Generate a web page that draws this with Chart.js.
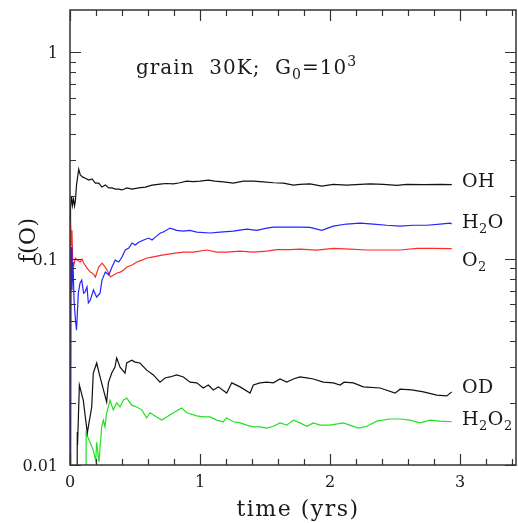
<!DOCTYPE html>
<html>
<head>
<meta charset="utf-8">
<script src="https://cdn.jsdelivr.net/npm/chart.js@4.4.1/dist/chart.umd.min.js"></script>
<style>
  html, body { margin: 0; padding: 0; background: #fff; }
  canvas { display: block; }
</style>
</head>
<body>
<canvas id="fracChart" width="518" height="523"></canvas>
<script>
// time (yrs) and f(O) for each species
const tOH = [0, 0.004, 0.012, 0.019, 0.027, 0.035, 0.042, 0.05, 0.067, 0.079, 0.098, 0.118, 0.144, 0.169, 0.195, 0.221, 0.246, 0.272, 0.298, 0.323, 0.348, 0.375, 0.4, 0.438, 0.477, 0.528, 0.579, 0.631, 0.708, 0.744, 0.795, 0.846, 0.898, 0.948, 1.0, 1.064, 1.115, 1.179, 1.256, 1.333, 1.41, 1.487, 1.564, 1.641, 1.718, 1.769, 1.846, 1.936, 2.025, 2.128, 2.231, 2.308, 2.41, 2.513, 2.59, 2.718, 2.846, 2.936];
const fOH = [0.001, 0.176, 0.201, 0.181, 0.194, 0.180, 0.192, 0.227, 0.271, 0.254, 0.248, 0.245, 0.240, 0.243, 0.232, 0.232, 0.222, 0.227, 0.220, 0.220, 0.217, 0.217, 0.215, 0.220, 0.217, 0.220, 0.222, 0.227, 0.230, 0.231, 0.230, 0.233, 0.237, 0.236, 0.237, 0.240, 0.237, 0.235, 0.232, 0.237, 0.237, 0.235, 0.233, 0.232, 0.227, 0.229, 0.230, 0.2245, 0.229, 0.227, 0.229, 0.230, 0.229, 0.226, 0.229, 0.228, 0.229, 0.228];

const tH2O = [0, 0.008, 0.015, 0.023, 0.031, 0.042, 0.05, 0.064, 0.077, 0.09, 0.105, 0.115, 0.131, 0.141, 0.156, 0.181, 0.205, 0.231, 0.246, 0.272, 0.298, 0.323, 0.348, 0.375, 0.4, 0.425, 0.452, 0.477, 0.502, 0.528, 0.567, 0.605, 0.631, 0.656, 0.695, 0.718, 0.769, 0.821, 0.872, 0.923, 0.975, 1.077, 1.154, 1.256, 1.359, 1.436, 1.513, 1.564, 1.641, 1.718, 1.769, 1.846, 1.936, 2.025, 2.128, 2.231, 2.333, 2.436, 2.538, 2.641, 2.744, 2.846, 2.923, 2.936];
const fH2O = [0.001, 0.1137, 0.0704, 0.0962, 0.063, 0.0504, 0.045, 0.068, 0.076, 0.0787, 0.068, 0.0688, 0.0728, 0.0609, 0.063, 0.0704, 0.065, 0.068, 0.0787, 0.086, 0.0832, 0.091, 0.0983, 0.0962, 0.1017, 0.110, 0.1124, 0.1189, 0.1163, 0.120, 0.123, 0.1257, 0.123, 0.127, 0.133, 0.1344, 0.1405, 0.137, 0.1358, 0.137, 0.1344, 0.133, 0.1344, 0.1358, 0.139, 0.137, 0.1405, 0.142, 0.142, 0.142, 0.142, 0.1415, 0.137, 0.1437, 0.147, 0.1485, 0.147, 0.145, 0.1437, 0.145, 0.145, 0.147, 0.1485, 0.147];

const tO2 = [0, 0.004, 0.01, 0.015, 0.021, 0.028, 0.041, 0.054, 0.079, 0.092, 0.105, 0.131, 0.156, 0.181, 0.195, 0.221, 0.246, 0.259, 0.285, 0.31, 0.336, 0.362, 0.387, 0.413, 0.438, 0.477, 0.515, 0.554, 0.592, 0.631, 0.669, 0.708, 0.759, 0.81, 0.872, 0.948, 1.052, 1.128, 1.205, 1.308, 1.41, 1.513, 1.59, 1.692, 1.769, 1.898, 2.025, 2.154, 2.282, 2.41, 2.538, 2.667, 2.795, 2.936];
const fO2 = [0.001, 0.150, 0.1163, 0.137, 0.0962, 0.092, 0.1006, 0.0983, 0.0962, 0.0994, 0.0951, 0.0899, 0.086, 0.0841, 0.0814, 0.091, 0.0951, 0.093, 0.088, 0.0814, 0.0832, 0.0851, 0.086, 0.088, 0.091, 0.093, 0.0962, 0.0983, 0.1006, 0.1017, 0.1028, 0.104, 0.1051, 0.1063, 0.1075, 0.1075, 0.110, 0.1075, 0.1075, 0.1087, 0.1075, 0.1087, 0.1105, 0.1105, 0.1112, 0.110, 0.112, 0.1112, 0.110, 0.110, 0.110, 0.112, 0.112, 0.1118];

const tOD = [0.052, 0.056, 0.058, 0.072, 0.102, 0.133, 0.154, 0.167, 0.179, 0.205, 0.231, 0.282, 0.295, 0.321, 0.346, 0.359, 0.385, 0.423, 0.436, 0.475, 0.5, 0.538, 0.59, 0.641, 0.692, 0.731, 0.769, 0.821, 0.872, 0.923, 0.975, 1.025, 1.064, 1.102, 1.141, 1.205, 1.244, 1.308, 1.385, 1.41, 1.462, 1.513, 1.564, 1.615, 1.667, 1.718, 1.769, 1.821, 1.872, 1.948, 2.025, 2.077, 2.108, 2.179, 2.256, 2.385, 2.5, 2.538, 2.628, 2.718, 2.821, 2.898, 2.936];
const fOD = [0.001, 0.01445, 0.0125, 0.0244, 0.0206, 0.0143, 0.0171, 0.0191, 0.0279, 0.0312, 0.0267, 0.0202, 0.0250, 0.0279, 0.0298, 0.0330, 0.0298, 0.0279, 0.0312, 0.0322, 0.0315, 0.0312, 0.0288, 0.0273, 0.0252, 0.0264, 0.0267, 0.0273, 0.0267, 0.0252, 0.0250, 0.0236, 0.0244, 0.0231, 0.0239, 0.0223, 0.0250, 0.0239, 0.0223, 0.0244, 0.0250, 0.0252, 0.0250, 0.0261, 0.0252, 0.0261, 0.0267, 0.0264, 0.0261, 0.0252, 0.0250, 0.0244, 0.0252, 0.0250, 0.0239, 0.0236, 0.0223, 0.0233, 0.0231, 0.0226, 0.0218, 0.0216, 0.0226];

const tH2O2 = [0.122, 0.124, 0.154, 0.179, 0.198, 0.205, 0.223, 0.231, 0.244, 0.256, 0.269, 0.282, 0.308, 0.333, 0.359, 0.385, 0.41, 0.436, 0.475, 0.513, 0.552, 0.59, 0.615, 0.667, 0.705, 0.744, 0.795, 0.859, 0.898, 0.975, 1.025, 1.077, 1.128, 1.179, 1.205, 1.256, 1.308, 1.359, 1.41, 1.462, 1.513, 1.564, 1.615, 1.667, 1.718, 1.769, 1.821, 1.872, 1.923, 2.0, 2.102, 2.218, 2.282, 2.359, 2.462, 2.538, 2.615, 2.692, 2.769, 2.846, 2.936];
const fH2O2 = [0.001, 0.0143, 0.0129, 0.0118, 0.01046, 0.0129, 0.01034, 0.0122, 0.0153, 0.0165, 0.0153, 0.0179, 0.0206, 0.0185, 0.0200, 0.0191, 0.0206, 0.0211, 0.0195, 0.0191, 0.0185, 0.0169, 0.0179, 0.0171, 0.0165, 0.0171, 0.0179, 0.0189, 0.0179, 0.0173, 0.0171, 0.0171, 0.0165, 0.0162, 0.0169, 0.0162, 0.0160, 0.0156, 0.0153, 0.0153, 0.0151, 0.0154, 0.0160, 0.0156, 0.0165, 0.0160, 0.0154, 0.0160, 0.0156, 0.0156, 0.0160, 0.0151, 0.0154, 0.0163, 0.0167, 0.0167, 0.0165, 0.0160, 0.0165, 0.0163, 0.0162];

// axis ticks
const xMajor = [0, 1, 2, 3];
const xMinor = [0.2, 0.4, 0.6, 0.8, 1.2, 1.4, 1.6, 1.8, 2.2, 2.4, 2.6, 2.8, 3.2, 3.4];
const yMajor = [0.01, 0.1, 1];
const yMajorLabels = ['0.01', '0.1', '1'];
const yMinor = [0.02, 0.03, 0.04, 0.05, 0.06, 0.07, 0.08, 0.09, 0.2, 0.3, 0.4, 0.5, 0.6, 0.7, 0.8, 0.9];

const SERIF = '"DejaVu Serif", "Liberation Serif", serif';

function pairs(ts, fs) {
  return ts.map((t, i) => ({ x: t, y: fs[i] }));
}

function line(data, color) {
  return {
    data: data,
    borderColor: color,
    borderWidth: 1.2,
    pointRadius: 0,
    tension: 0,
    fill: false,
    clip: 0
  };
}

// draw a run of text pieces [text, size, dy] left to right
function rich(ctx, parts, x, y) {
  parts.forEach(p => {
    ctx.font = p[1] + 'px ' + SERIF;
    ctx.fillText(p[0], x, y + (p[2] || 0));
    x += ctx.measureText(p[0]).width;
  });
}

const framePlugin = {
  id: 'frame',
  afterDatasetsDraw(chart) {
    const { ctx, chartArea: a, scales } = chart;
    const xs = scales.x, ys = scales.y;
    ctx.save();

    ctx.strokeStyle = '#333';
    ctx.lineWidth = 1.5;
    ctx.strokeRect(a.left, a.top, a.right - a.left, a.bottom - a.top);

    ctx.lineWidth = 1.2;
    ctx.beginPath();
    const xTick = (v, len) => {
      const px = Math.round(xs.getPixelForValue(v)) + 0.5;
      ctx.moveTo(px, a.bottom); ctx.lineTo(px, a.bottom - len);
      ctx.moveTo(px, a.top); ctx.lineTo(px, a.top + len);
    };
    const yTick = (v, len) => {
      const py = Math.round(ys.getPixelForValue(v)) + 0.5;
      ctx.moveTo(a.left, py); ctx.lineTo(a.left + len, py);
      ctx.moveTo(a.right, py); ctx.lineTo(a.right - len, py);
    };
    xMajor.forEach(v => xTick(v, 11));
    xMinor.forEach(v => xTick(v, 6));
    yMajor.forEach(v => yTick(v, 11));
    yMinor.forEach(v => yTick(v, 6));
    ctx.stroke();

    ctx.fillStyle = '#1a1a1a';
    ctx.font = '16px ' + SERIF;
    ctx.textAlign = 'center';
    ctx.textBaseline = 'alphabetic';
    xMajor.forEach(v => ctx.fillText(String(v), xs.getPixelForValue(v), a.bottom + 22));
    ctx.textAlign = 'right';
    yMajor.forEach((v, i) => ctx.fillText(yMajorLabels[i], a.left - 12, ys.getPixelForValue(v) + 6));

    // axis titles
    ctx.textAlign = 'center';
    ctx.font = '22px ' + SERIF;
    ctx.letterSpacing = '1.5px';
    ctx.fillText('time (yrs)', (a.left + a.right) / 2 + 5, 516);
    ctx.letterSpacing = '0.5px';
    ctx.save();
    ctx.translate(35, 240);
    ctx.rotate(-Math.PI / 2);
    ctx.fillText('f(O)', 0, 0);
    ctx.restore();

    // run label
    ctx.textAlign = 'left';
    ctx.letterSpacing = '1px';
    rich(ctx, [['grain  30K;  G', 20], ['0', 14, 5], ['=10', 20], ['3', 14, -8]], 136, 74);

    // species labels
    ctx.letterSpacing = '0.5px';
    const lx = 462;
    rich(ctx, [['OH', 19]], lx, 187);
    rich(ctx, [['H', 19], ['2', 13, 5], ['O', 19]], lx, 228);
    rich(ctx, [['O', 19], ['2', 13, 5]], lx, 266);
    rich(ctx, [['OD', 19]], lx, 393);
    rich(ctx, [['H', 19], ['2', 13, 5], ['O', 19], ['2', 13, 5]], lx, 425);

    ctx.restore();
  }
};

new Chart(document.getElementById('fracChart').getContext('2d'), {
  type: 'line',
  data: {
    datasets: [
      line(pairs(tH2O, fH2O), '#2424ff'),
      line(pairs(tO2, fO2), '#ff2a2a'),
      line(pairs(tOH, fOH), '#111111'),
      line(pairs(tOD, fOD), '#111111'),
      line(pairs(tH2O2, fH2O2), '#22e022')
    ]
  },
  options: {
    responsive: false,
    animation: false,
    devicePixelRatio: 1,
    layout: { padding: { left: 70, top: 10, right: 2, bottom: 58 } },
    plugins: { legend: { display: false }, tooltip: { enabled: false } },
    scales: {
      x: { type: 'linear', min: 0, max: 3.43, display: false },
      y: { type: 'logarithmic', min: 0.01, max: 1.6, display: false }
    }
  },
  plugins: [framePlugin]
});
</script>
</body>
</html>
